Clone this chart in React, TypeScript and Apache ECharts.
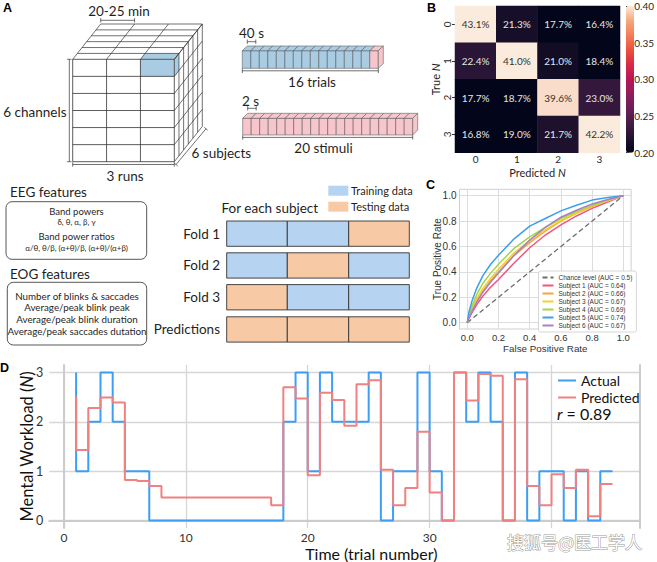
import React, { useEffect, useRef } from 'react';
import * as echarts from 'echarts';

// ---------------- DATA ----------------
// Panel B: confusion matrix (rows = true N, cols = predicted N), percent
const nLabels = ['0', '1', '2', '3'];
const confusionRow0 = [43.1, 21.3, 17.7, 16.4];
const confusionRow1 = [22.4, 41.0, 21.0, 18.4];
const confusionRow2 = [17.7, 18.7, 39.6, 23.0];
const confusionRow3 = [16.8, 19.0, 21.7, 42.2];
const confusion = [confusionRow0, confusionRow1, confusionRow2, confusionRow3];
const colorbarMin = 0.2;
const colorbarMax = 0.4;

// Panel C: ROC curves
const rocFpr = [0, 0.01, 0.03, 0.06, 0.1, 0.15, 0.2, 0.3, 0.4, 0.5, 0.6, 0.7, 0.8, 0.9, 1.0];
const rocS1 = [0, 0.03, 0.08, 0.14, 0.21, 0.28, 0.34, 0.47, 0.59, 0.69, 0.77, 0.84, 0.9, 0.95, 1];
const rocS2 = [0, 0.04, 0.1, 0.17, 0.25, 0.33, 0.4, 0.53, 0.63, 0.72, 0.8, 0.86, 0.915, 0.96, 1];
const rocS3 = [0, 0.045, 0.11, 0.19, 0.27, 0.35, 0.42, 0.55, 0.645, 0.73, 0.805, 0.865, 0.92, 0.96, 1];
const rocS4 = [0, 0.055, 0.13, 0.22, 0.31, 0.39, 0.46, 0.585, 0.675, 0.75, 0.82, 0.875, 0.925, 0.965, 1];
const rocS5 = [0, 0.08, 0.17, 0.27, 0.37, 0.46, 0.53, 0.66, 0.76, 0.82, 0.88, 0.925, 0.965, 0.985, 1];
const rocS6 = [0, 0.035, 0.09, 0.16, 0.24, 0.32, 0.39, 0.53, 0.65, 0.75, 0.83, 0.885, 0.935, 0.97, 1];
const rocNames = [
  'Subject 1 (AUC = 0.64)',
  'Subject 2 (AUC = 0.66)',
  'Subject 3 (AUC = 0.67)',
  'Subject 4 (AUC = 0.69)',
  'Subject 5 (AUC = 0.74)',
  'Subject 6 (AUC = 0.67)',
];
const chanceName = 'Chance level (AUC = 0.5)';
const chanceLine = [[0, 0], [1, 1]];
const rocTicks = [0, 0.2, 0.4, 0.6, 0.8, 1.0];

// Panel D: actual vs predicted workload per trial (trial 1..45)
const actualWorkload = [3, 1, 2, 3, 2, 1, 1, 0, 0, 0, 0, 0, 0, 0, 0, 0, 0, 0, 2, 3, 1, 3, 2, 2, 2, 3, 0, 1, 1, 3, 1, 0, 3, 2, 3, 2, 0, 3, 0, 1, 1, 0, 1, 0, 1];
const predictedWorkload = [2.51, 1.43, 2.28, 2.49, 2.39, 0.82, 0.8, 0.7, 0.47, 0.47, 0.47, 0.47, 0.47, 0.47, 0.47, 0.47, 0.47, 0.31, 2.7, 2.47, 0.92, 2.59, 2.44, 1.92, 2.76, 2.84, 1.03, 0.31, 0.66, 1.8, 0.57, 0, 3.0, 2.43, 2.97, 2.93, 0, 2.86, 0.7, 0.31, 0.94, 0.66, 1.03, 0.09, 0.74];
const timeGridTicks = [0, 10, 20, 30, 40];
const timeTickLabels = [0, 10, 20, 30]; // the "40" label is hidden under the watermark in the reference
const workloadTicks = [0, 1, 2, 3];
const correlationText = '0.89';

// Panel A: diagram contents
const trialCount = 16;
const stimuliCount = 20;
const foldNames = ['Fold 1', 'Fold 2', 'Fold 3', 'Predictions'];
const foldPlan = [
  ['train', 'train', 'test'],
  ['train', 'test', 'train'],
  ['test', 'train', 'train'],
  ['test', 'test', 'test'],
];
const eegLines = ['Band powers', 'δ, θ, α, β, γ', 'Band power ratios', 'α/θ, θ/β, (α+θ)/β, (α+θ)/(α+β)'];
const eogLines = ['Number of blinks & saccades', 'Average/peak blink peak', 'Average/peak blink duration', 'Average/peak saccades dutation'];

// ---------------- STYLE ----------------
const SANS = 'Lato, "Open Sans", "Noto Sans", sans-serif';
const ARIAL = '"Liberation Sans", Arial, sans-serif';
const CJK = '"Noto Sans CJK SC", sans-serif';
const INK = '#1f1f1f';
const rocket = ['#03051A', '#221331', '#451C47', '#6B1F59', '#921C5B', '#B91657', '#D92847', '#ED503E', '#F47D57', '#F6A77C', '#FAEBDD'];
const rocColors = ['#f0577a', '#f5a440', '#f0d22c', '#a4d548', '#3d9ef0', '#a681c8'];
const BLUE_CELL = '#a9cce3';
const PINK_CELL = '#f7c6cc';
const TRAIN = '#b6d3f1';
const TEST = '#f7caa5';

function buildGraphic() {
  const G: any[] = [];
  const ln = (x1: number, y1: number, x2: number, y2: number, w = 0.8, c = '#333') =>
    G.push({ type: 'line', silent: true, z: 5, shape: { x1, y1, x2, y2 }, style: { stroke: c, lineWidth: w } });
  const pg = (pts: number[][], fill: string, stroke = 'none', w = 0.6) =>
    G.push({ type: 'polygon', silent: true, z: 4, shape: { points: pts }, style: { fill, stroke, lineWidth: w } });
  const tx = (text: string, x: number, y: number, size: number, o: any = {}) =>
    G.push({
      type: 'text', x, y, silent: true, z: o.z ?? 6,
      style: {
        text, fontSize: size, fontFamily: o.f ?? SANS, fontWeight: o.w ?? 'normal',
        fontStyle: o.s ?? 'normal', fill: o.c ?? INK,
        align: o.a ?? 'center', textAlign: o.a ?? 'center',
        verticalAlign: 'middle', textVerticalAlign: 'middle',
        rich: o.rich, stroke: o.stroke, lineWidth: o.lw,
      },
    });
  const hbr = (x1: number, x2: number, y: number, t = 2.2) => {
    ln(x1, y, x2, y, 0.7); ln(x1, y - t, x1, y + t, 0.7); ln(x2, y - t, x2, y + t, 0.7);
  };
  const vbr = (x: number, y1: number, y2: number, t = 2.2) => {
    ln(x, y1, x, y2, 0.7); ln(x - t, y1, x + t, y1, 0.7); ln(x - t, y2, x + t, y2, 0.7);
  };

  // panel labels
  tx('A', 3, 8, 12.5, { f: ARIAL, w: 'bold', a: 'left', c: '#000' });
  tx('B', 427, 8, 12.5, { f: ARIAL, w: 'bold', a: 'left', c: '#000' });
  tx('C', 426, 184.5, 12.5, { f: ARIAL, w: 'bold', a: 'left', c: '#000' });
  tx('D', 0, 367.5, 12.5, { f: ARIAL, w: 'bold', a: 'left', c: '#000' });

  // ---- cube ----
  const X0 = 72.7, Y0 = 59.3, W = 101.6, H = 102.4, DX = 28, DY = -35.3;
  const NC = 3, NR = 6, ND = 6;
  const X1 = X0 + W, Y1 = Y0 + H, cw = W / NC, rh = H / NR, ddx = DX / ND, ddy = DY / ND;
  pg([[X0, Y0], [X1, Y0], [X1 + DX, Y0 + DY], [X0 + DX, Y0 + DY]], '#fff');
  pg([[X1, Y0], [X1 + DX, Y0 + DY], [X1 + DX, Y1 + DY], [X1, Y1]], '#fff');
  pg([[X0, Y0], [X1, Y0], [X1, Y1], [X0, Y1]], '#fff');
  const bx = X0 + 2 * cw;
  pg([[bx, Y0], [X1, Y0], [X1, Y0 + rh], [bx, Y0 + rh]], BLUE_CELL);
  pg([[bx, Y0], [X1, Y0], [X1 + ddx, Y0 + ddy], [bx + ddx, Y0 + ddy]], BLUE_CELL);
  pg([[X1, Y0], [X1 + ddx, Y0 + ddy], [X1 + ddx, Y0 + rh + ddy], [X1, Y0 + rh]], BLUE_CELL);
  for (let c = 0; c <= NC; c++) {
    ln(X0 + c * cw, Y0, X0 + c * cw, Y1, 0.8);
    ln(X0 + c * cw, Y0, X0 + c * cw + DX, Y0 + DY, 0.7);
  }
  for (let r = 0; r <= NR; r++) {
    ln(X0, Y0 + r * rh, X1, Y0 + r * rh, 0.8);
    ln(X1, Y0 + r * rh, X1 + DX, Y0 + r * rh + DY, 0.7);
  }
  for (let k = 1; k <= ND; k++) {
    ln(X0 + k * ddx, Y0 + k * ddy, X1 + k * ddx, Y0 + k * ddy, 0.7);
    ln(X1 + k * ddx, Y0 + k * ddy, X1 + k * ddx, Y1 + k * ddy, 0.7);
  }
  hbr(X0 + DX, X0 + DX + cw, 20.3);
  tx('20-25 min', 119, 10.5, 13.5);
  vbr(69.3, Y0, Y1);
  tx('6 channels', 66.5, 111.7, 13.5, { a: 'right' });
  hbr(X0, X1, 164.5);
  tx('3 runs', 125, 175.5, 13.5);
  {
    const ax = 176, ay = 164.5, bxx = 206, byy = 128.8, px = 1.69, py = 1.41;
    ln(ax, ay, bxx, byy, 0.7);
    ln(ax - px, ay - py, ax + px, ay + py, 0.7);
    ln(bxx - px, byy - py, bxx + px, byy + py, 0.7);
  }
  tx('6 subjects', 191.5, 152.7, 13.5, { a: 'left' });

  // ---- strips ----
  const strip = (x0: number, yT: number, yB: number, n: number, cwid: number, dX: number, dY: number, colorOf: (i: number) => string) => {
    for (let i = 0; i < n; i++) {
      const xa = x0 + i * cwid, xb = xa + cwid;
      pg([[xa, yT], [xb, yT], [xb, yB], [xa, yB]], colorOf(i), '#555', 0.55);
      pg([[xa, yT], [xb, yT], [xb + dX, yT + dY], [xa + dX, yT + dY]], colorOf(i), '#555', 0.55);
    }
    const xe = x0 + n * cwid;
    pg([[xe, yT], [xe + dX, yT + dY], [xe + dX, yB + dY], [xe, yB]], colorOf(n - 1), '#555', 0.55);
  };
  const cellW = 8.5;
  strip(242.3, 50.7, 68.3, trialCount, cellW, 5, -4.7, (i) => (i === trialCount - 1 ? PINK_CELL : BLUE_CELL));
  hbr(247.3, 247.3 + cellW, 41.7);
  tx('40 s', 251.5, 32.5, 13.5);
  hbr(242.3, 242.3 + trialCount * cellW, 70.8);
  tx('16 trials', 312, 82, 13.5);

  strip(242.7, 118.3, 135, stimuliCount, cellW, 5, -5, () => PINK_CELL);
  hbr(247.7, 247.7 + cellW, 108.3);
  tx('2 s', 250.5, 100.5, 13.5);
  hbr(242.7, 242.7 + stimuliCount * cellW, 137.4);
  tx('20 stimuli', 323.5, 148, 13.5);

  // ---- features ----
  tx('EEG features', 10, 192.2, 13.5, { a: 'left' });
  G.push({ type: 'rect', silent: true, z: 4, shape: { x: 6, y: 201.7, width: 140.7, height: 57.6, r: 6 }, style: { fill: 'none', stroke: '#444', lineWidth: 0.9 } });
  tx(eegLines[0], 76.5, 211, 9.5);
  tx(eegLines[1], 76.5, 221.8, 8);
  tx(eegLines[2], 76.5, 236.8, 9.5);
  tx(eegLines[3], 76.5, 247.8, 8);
  tx('EOG features', 10, 273.5, 13.5, { a: 'left' });
  G.push({ type: 'rect', silent: true, z: 4, shape: { x: 7.3, y: 282.3, width: 139.4, height: 62.7, r: 6 }, style: { fill: 'none', stroke: '#444', lineWidth: 0.9 } });
  eogLines.forEach((s, i) => tx(s, 77, 295.7 + i * 11.75, 9.8));

  // ---- cross validation ----
  G.push({ type: 'rect', silent: true, z: 4, shape: { x: 328.3, y: 185.7, width: 20, height: 10 }, style: { fill: TRAIN } });
  tx('Training data', 351, 190.7, 11, { a: 'left' });
  G.push({ type: 'rect', silent: true, z: 4, shape: { x: 328.3, y: 201.7, width: 20, height: 10 }, style: { fill: TEST } });
  tx('Testing data', 351, 206.7, 11, { a: 'left' });
  tx('For each subject', 221.5, 207.5, 13.5, { a: 'left' });
  const segX = [226.7, 287.3, 348.7, 409.3];
  const rowY = [221, 252.8, 284.6, 316.8];
  foldPlan.forEach((row, ri) => {
    row.forEach((kind, si) => {
      G.push({
        type: 'rect', silent: true, z: 4,
        shape: { x: segX[si], y: rowY[ri], width: segX[si + 1] - segX[si], height: 25.3 },
        style: { fill: kind === 'train' ? TRAIN : TEST, stroke: '#333', lineWidth: 0.9 },
      });
    });
    tx(foldNames[ri], 220, rowY[ri] + 12.6, 13.5, { a: 'right' });
  });

  // ---- panel D annotations ----
  tx('{i|r} = ' + correlationText, 557, 413.5, 16, { a: 'left', c: '#111', rich: { i: { fontStyle: 'italic', fontSize: 16, fontFamily: SANS, fill: '#111' } } });

  // watermark
  tx('搜狐号@医工学人', 507, 541, 17, { a: 'left', f: CJK, c: '#ffffff', stroke: '#9a9a9a', lw: 1, z: 20 });
  return G;
}

function buildOption() {
  const heatData: any[] = [];
  confusion.forEach((row, r) => {
    row.forEach((pct, c) => {
      const v = Math.min(colorbarMax, Math.max(colorbarMin, pct / 100));
      const t = (v - colorbarMin) / (colorbarMax - colorbarMin);
      heatData.push({ value: [c, r, v, pct], label: { color: t > 0.6 ? '#333333' : '#e6e6e6' } });
    });
  });

  const rocSeriesValues = [rocS1, rocS2, rocS3, rocS4, rocS5, rocS6];
  const rocSeries = rocSeriesValues.map((tpr, i) => ({
    type: 'line', name: rocNames[i], xAxisIndex: 2, yAxisIndex: 2,
    data: rocFpr.map((f, j) => [f, tpr[j]]),
    symbol: 'none', smooth: false,
    lineStyle: { color: rocColors[i], width: 1.5 }, itemStyle: { color: rocColors[i] },
    z: 3 + i,
  }));

  const nameRich = (size: number) => ({ i: { fontStyle: 'italic', fontSize: size, fontFamily: SANS, color: INK } });

  return {
    animation: false,
    backgroundColor: '#ffffff',
    grid: [
      { left: 455, top: 6, width: 165, height: 146.7 },
      { left: 626, top: 6, width: 8, height: 146.7 },
      { left: 459.5, top: 189.3, width: 171.6, height: 139.7, show: true, borderColor: '#cfcfcf', borderWidth: 1, backgroundColor: '#ffffff' },
      { left: 49.3, top: 365, width: 590, height: 163.3 },
    ],
    xAxis: [
      {
        gridIndex: 0, type: 'category', data: nLabels, position: 'bottom',
        axisLine: { show: false }, axisTick: { show: false },
        axisLabel: { fontSize: 10, color: INK, fontFamily: SANS, margin: 1.5 },
        splitLine: { show: false },
        name: 'Predicted {i|N}', nameLocation: 'middle', nameGap: 14, nameMoveOverlap: false,
        nameTextStyle: { fontSize: 11, fontFamily: SANS, color: INK, rich: nameRich(11) },
      },
      { gridIndex: 1, type: 'value', show: false, min: 0, max: 1 },
      {
        gridIndex: 2, type: 'value', min: -0.05, max: 1.05,
        axisLine: { show: false },
        axisTick: { show: false, customValues: rocTicks },
        axisLabel: { customValues: rocTicks, formatter: (v: number) => v.toFixed(1), fontSize: 9.5, color: '#333', fontFamily: ARIAL, margin: 3 },
        splitLine: { show: true, lineStyle: { color: '#dddddd', width: 1 } },
        name: 'False Positive Rate', nameLocation: 'middle', nameGap: 14, nameMoveOverlap: false,
        nameTextStyle: { fontSize: 9.8, color: '#333', fontFamily: ARIAL },
      },
      {
        gridIndex: 3, type: 'value', min: -1.2, max: 47.2,
        axisLine: { show: true, lineStyle: { color: '#cccccc', width: 2 } },
        axisTick: { show: false, customValues: timeGridTicks },
        axisLabel: { customValues: timeTickLabels, fontSize: 12, color: '#333', fontFamily: SANS, margin: 3 },
        splitLine: { show: true, lineStyle: { color: '#d6d6d6', width: 1.3 } },
        name: 'Time (trial number)', nameLocation: 'middle', nameGap: 17, nameMoveOverlap: false,
        nameTextStyle: { fontSize: 16, color: '#111', fontFamily: SANS, padding: [0, 0, 0, 54] },
      },
    ],
    yAxis: [
      {
        gridIndex: 0, type: 'category', data: nLabels, inverse: true,
        axisLine: { show: false }, axisTick: { show: true, length: 3, alignWithLabel: true, lineStyle: { color: '#333' } },
        axisLabel: { rotate: 90, fontSize: 10, color: INK, fontFamily: SANS, margin: 3 },
        splitLine: { show: false },
        name: 'True {i|N}', nameLocation: 'middle', nameGap: 14, nameRotate: 90, nameMoveOverlap: false,
        nameTextStyle: { fontSize: 11, fontFamily: SANS, color: INK, rich: nameRich(11) },
      },
      {
        gridIndex: 1, type: 'value', min: colorbarMin, max: colorbarMax, interval: 0.05, position: 'right',
        axisLine: { show: false }, axisTick: { show: true, length: 3, lineStyle: { color: '#333' } },
        axisLabel: { fontSize: 10, color: INK, fontFamily: SANS, margin: 2, formatter: (v: number) => v.toFixed(2) },
        splitLine: { show: false },
      },
      {
        gridIndex: 2, type: 'value', min: -0.05, max: 1.05,
        axisLine: { show: false },
        axisTick: { show: false, customValues: rocTicks },
        axisLabel: { customValues: rocTicks, formatter: (v: number) => v.toFixed(1), fontSize: 10, color: '#333', fontFamily: ARIAL, margin: 3 },
        splitLine: { show: true, lineStyle: { color: '#dddddd', width: 1 } },
        name: 'True Positive Rate', nameLocation: 'middle', nameGap: 17, nameRotate: 90, nameMoveOverlap: false,
        nameTextStyle: { fontSize: 10, color: '#333', fontFamily: ARIAL },
      },
      {
        gridIndex: 3, type: 'value', min: -0.15, max: 3.15,
        axisLine: { show: true, lineStyle: { color: '#cccccc', width: 2 } },
        axisTick: { show: false, customValues: workloadTicks },
        axisLabel: { customValues: workloadTicks, fontSize: 12.5, color: '#333', fontFamily: SANS, margin: 6 },
        splitLine: { show: true, lineStyle: { color: '#d6d6d6', width: 1.3 } },
        name: 'Mental Workload ({i|N})', nameLocation: 'middle', nameGap: 14, nameRotate: 90, nameMoveOverlap: false,
        nameTextStyle: { fontSize: 16.5, color: '#111', fontFamily: SANS, rich: { i: { fontStyle: 'italic', fontSize: 16.5, fontFamily: SANS, color: '#111' } } },
      },
      {
        gridIndex: 3, type: 'value', min: -0.15, max: 3.15, position: 'right',
        axisLine: { show: true, lineStyle: { color: '#cccccc', width: 2 } },
        axisTick: { show: false }, axisLabel: { show: false }, splitLine: { show: false },
      },
    ],
    visualMap: [
      {
        type: 'continuous', seriesIndex: 0, dimension: 2, min: colorbarMin, max: colorbarMax,
        inRange: { color: rocket }, left: 626, top: 6, itemWidth: 8, itemHeight: 146.7,
        calculable: false, hoverLink: false, padding: 0, show: true,
      },
    ],
    legend: [
      {
        data: [chanceName, ...rocNames], left: 538.5, top: 271, orient: 'vertical',
        itemWidth: 11, itemHeight: 6, itemGap: 1, padding: [3, 4, 3, 3],
        textStyle: { fontSize: 6.5, fontFamily: ARIAL, color: '#333' },
        backgroundColor: '#ffffff', borderColor: '#cccccc', borderWidth: 0.8, borderRadius: 2,
        itemStyle: { opacity: 0 },
        selectedMode: false,
      },
      {
        data: ['Actual', 'Predicted'], left: 557, top: 373.5, orient: 'vertical',
        itemWidth: 18, itemHeight: 10, itemGap: 3, padding: 0,
        textStyle: { fontSize: 14, fontFamily: SANS, color: '#111' },
        itemStyle: { opacity: 0 },
        selectedMode: false,
      },
    ],
    series: [
      {
        type: 'heatmap', xAxisIndex: 0, yAxisIndex: 0, data: heatData,
        label: { show: true, fontSize: 10, fontFamily: SANS, formatter: (p: any) => p.value[3].toFixed(1) + '%' },
        emphasis: { disabled: true },
      },
      { type: 'scatter', xAxisIndex: 1, yAxisIndex: 1, data: [], silent: true },
      {
        type: 'line', name: chanceName, xAxisIndex: 2, yAxisIndex: 2, data: chanceLine,
        symbol: 'none', lineStyle: { color: '#6e6e6e', width: 1.3, type: [5, 3] }, itemStyle: { color: '#6e6e6e' }, z: 2,
      },
      ...rocSeries,
      {
        type: 'line', name: 'Actual', xAxisIndex: 3, yAxisIndex: 3, step: 'start',
        data: actualWorkload.map((v, i) => [i + 1, v]),
        symbol: 'none', lineStyle: { color: '#3d9ef3', width: 2 }, itemStyle: { color: '#3d9ef3' }, z: 3,
      },
      {
        type: 'line', name: 'Predicted', xAxisIndex: 3, yAxisIndex: 3, step: 'start',
        data: predictedWorkload.map((v, i) => [i + 1, v]),
        symbol: 'none', lineStyle: { color: '#f08181', width: 2 }, itemStyle: { color: '#f08181' }, z: 4,
      },
    ],
    graphic: { elements: buildGraphic() },
  };
}

export default function App() {
  const ref = useRef<HTMLDivElement>(null);
  useEffect(() => {
    if (!ref.current) return;
    const chart = echarts.init(ref.current, null, { renderer: 'svg' });
    chart.setOption(buildOption() as any);
    return () => chart.dispose();
  }, []);
  return (
    <div
      ref={ref}
      style={{ position: 'absolute', left: 0, top: 0, width: 657, height: 562, background: '#ffffff' }}
    />
  );
}
